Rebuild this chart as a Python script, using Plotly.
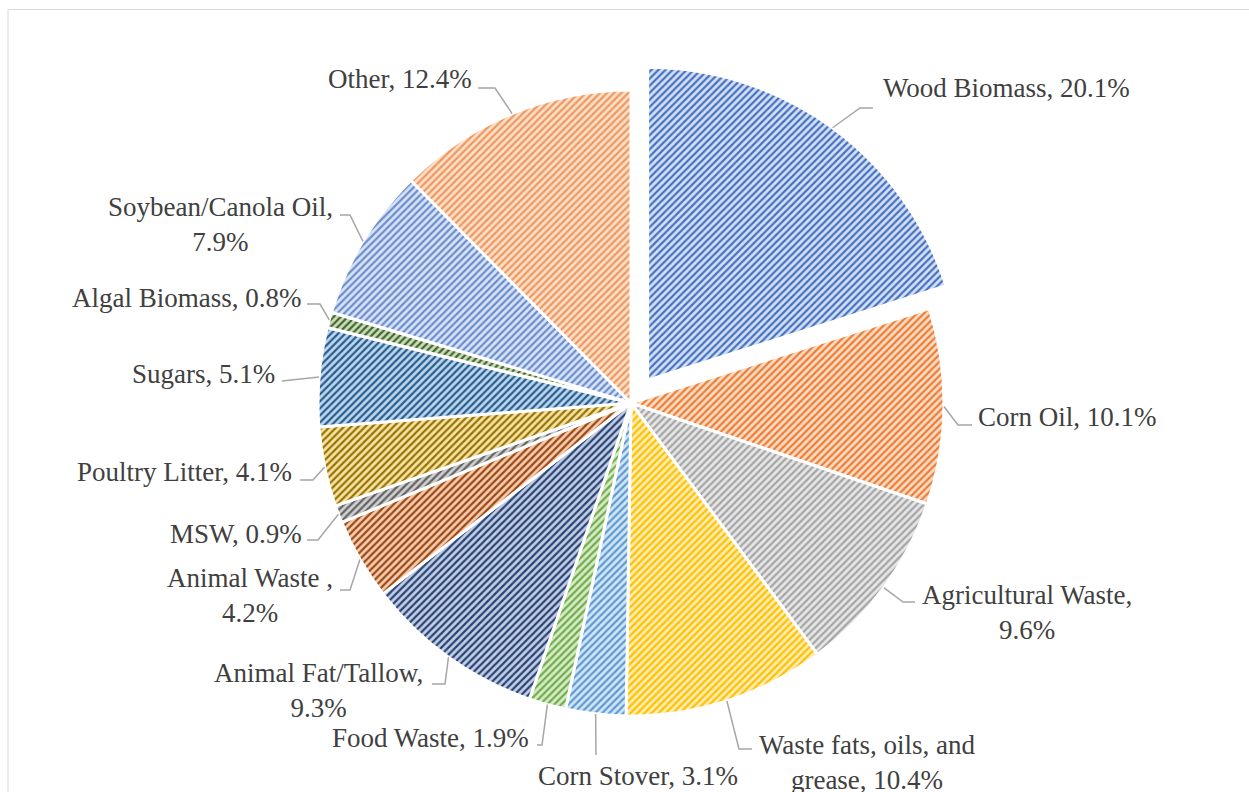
import math
import plotly.graph_objects as go

# ---- data ----
labels = ["Wood Biomass", "Corn Oil", "Agricultural Waste", "Waste fats, oils, and grease",
          "Corn Stover", "Food Waste", "Animal Fat/Tallow", "Animal Waste ", "MSW",
          "Poultry Litter", "Sugars", "Algal Biomass", "Soybean/Canola Oil", "Other"]
values = [20.1, 10.1, 9.6, 10.4, 3.1, 1.9, 9.3, 4.2, 0.9, 4.1, 5.1, 0.8, 7.9, 12.4]
label_texts = ["Wood Biomass, 20.1%", "Corn Oil, 10.1%", "Agricultural Waste,<br>9.6%",
               "Waste fats, oils, and<br>grease, 10.4%", "Corn Stover, 3.1%", "Food Waste, 1.9%",
               "Animal Fat/Tallow,<br>9.3%", "Animal Waste ,<br>4.2%", "MSW, 0.9%",
               "Poultry Litter, 4.1%", "Sugars, 5.1%", "Algal Biomass, 0.8%",
               "Soybean/Canola Oil,<br>7.9%", "Other, 12.4%"]

# ---- styles ----
fg = ["#4472C4", "#ED7D31", "#A5A5A5", "#FFC000", "#5B9BD5", "#70AD47", "#264478",
      "#9E480E", "#636363", "#997300", "#255E91", "#43682B", "#698ED0", "#F1975A"]
bg = ["#D6E0F3", "#FBDCC8", "#E6E6E6", "#FFEDB3", "#D4E5F4", "#D7EBCB", "#C5CEE2",
      "#F3CDB5", "#CFCFCF", "#F5E3A8", "#C0D6EB", "#CCDDBF", "#DAE3F4", "#FBE0CD"]
pulls = [0.09] + [0] * 13

W, H = 1249, 792
CX, CY, R = 631, 403, 313
half = R * (1 + max(pulls))

# label layout (pixel centers of text blocks) and leader elbow / end points
label_pos = [(1006, 88), (1067, 417), (1027, 612), (867, 762), (638, 776), (430, 738),
             (318, 690), (250, 595), (236, 534), (184, 472), (203, 374), (187, 298),
             (220, 224), (400, 79)]
leader_pts = [[(860, 108), (873, 108)], [(958, 425), (972, 425)], [(903, 602), (915, 602)],
              [(739, 749), (752, 749)], [(596, 755)], [(542, 745), (537, 745)],
              [(445, 684), (432, 684)], [(350, 590), (340, 590)], [(318, 540), (307, 540)],
              [(313, 480), (300, 480)], [(282, 381)], [(320, 304), (307, 304)],
              [(350, 215), (340, 215)], [(495, 88), (478, 88)]]

FONT = dict(family="Liberation Serif, Times New Roman, serif", size=27, color="#404040")


def px2paper(x, y):
    return x / W, 1 - y / H


fig = go.Figure(go.Pie(
    labels=labels, values=values, sort=False, direction="clockwise", rotation=0,
    pull=pulls, textinfo="none", hoverinfo="label+percent",
    marker=dict(colors=fg, line=dict(color="white", width=3),
                pattern=dict(shape="/", fgcolor=fg, bgcolor=bg, size=5, solidity=0.45,
                             fillmode="replace")),
    domain=dict(x=[(CX - half) / W, (CX + half) / W], y=[1 - (CY + half) / H, 1 - (CY - half) / H]),
    showlegend=False,
))

# leader lines start at each slice's outer edge at its mid-angle
total = sum(values)
cum = 0
shapes = []
annotations = []
for i, v in enumerate(values):
    mid = (cum + v / 2) / total * 2 * math.pi
    cum += v
    cx = CX + pulls[i] * R * math.sin(mid)
    cy = CY - pulls[i] * R * math.cos(mid)
    ex = cx + R * math.sin(mid)
    ey = cy - R * math.cos(mid)
    pts = [(ex, ey)] + leader_pts[i]
    path = ""
    for j, (x, y) in enumerate(pts):
        px, py = px2paper(x, y)
        path += ("M" if j == 0 else " L") + f"{px:.5f},{py:.5f}"
    shapes.append(dict(type="path", xref="paper", yref="paper", path=path,
                       line=dict(color="#A6A6A6", width=1.5)))
    ax, ay = px2paper(*label_pos[i])
    annotations.append(dict(x=ax, y=ay, xref="paper", yref="paper", text=label_texts[i],
                            showarrow=False, xanchor="center", yanchor="middle",
                            align="center", font=FONT))

# chart-area border
shapes.append(dict(type="rect", xref="paper", yref="paper", x0=8 / W, y0=-0.05, x1=1.05,
                   y1=1 - 9.5 / H, line=dict(color="#D9D9D9", width=1), fillcolor="rgba(0,0,0,0)"))

fig.update_layout(width=W, height=H, margin=dict(l=0, r=0, t=0, b=0),
                  paper_bgcolor="white", plot_bgcolor="white",
                  shapes=shapes, annotations=annotations)

fig.write_html("out.html", config={"displayModeBar": False})
